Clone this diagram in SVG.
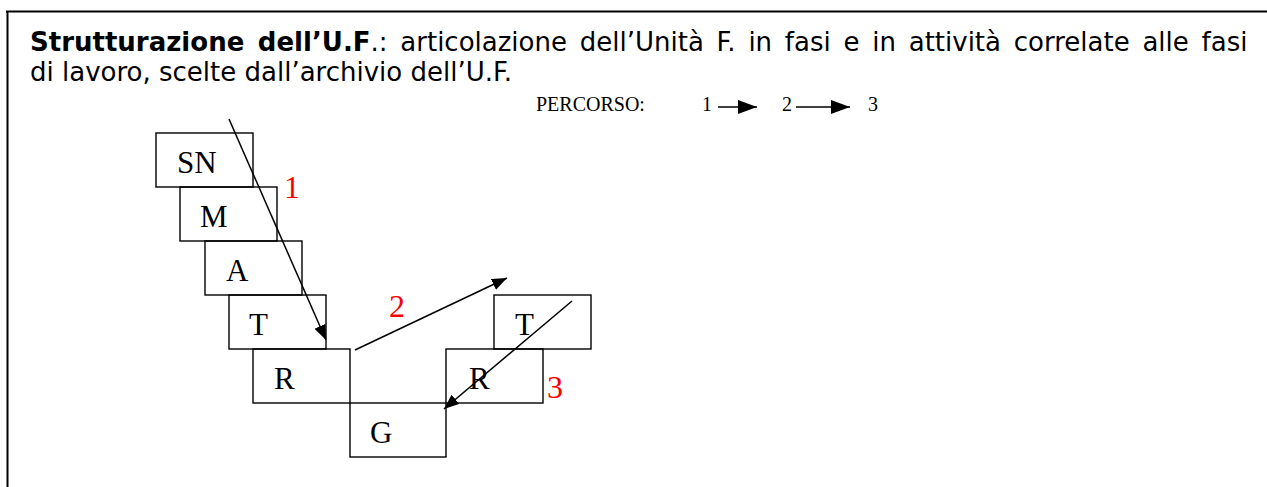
<svg xmlns="http://www.w3.org/2000/svg" width="1267" height="487" viewBox="0 0 1267 487">
<style>
.hdr{font-family:"DejaVu Sans",Verdana,sans-serif;font-size:26px;fill:#000}
.b{font-weight:bold}
.box{fill:none;stroke:#000;stroke-width:1.4}
.lbl{font-family:"Liberation Serif","Times New Roman",serif;font-size:31px;fill:#000}
.num{font-family:"Liberation Serif","Times New Roman",serif;font-size:32px;fill:#ff0000}
.per{font-family:"Liberation Serif","Times New Roman",serif;font-size:20px;fill:#000}
.arr{fill:none;stroke:#000;stroke-width:1.5}
</style>
<defs>
<marker id="ah" markerUnits="userSpaceOnUse" markerWidth="16" markerHeight="13" refX="15" refY="6" orient="auto">
<path d="M0,0 L15,6 L0,12 z" fill="#000"/>
</marker>
<marker id="ah2" markerUnits="userSpaceOnUse" markerWidth="20" markerHeight="15" refX="19" refY="7" orient="auto">
<path d="M0,0 L19,7 L0,14 z" fill="#000"/>
</marker>
</defs>
<rect width="1267" height="487" fill="#fff"/>
<g id="frame">
<line x1="6" y1="11.5" x2="1267" y2="11.5" stroke="#000" stroke-width="2"/>
<line x1="7.5" y1="11" x2="7.5" y2="487" stroke="#000" stroke-width="2"/>
</g>
<g id="header">
<text class="hdr" x="30" y="51" word-spacing="4.5"><tspan class="b">Strutturazione dell’U.F</tspan>.: articolazione dell’Unità F. in fasi e in attività correlate alle fasi</text>
<text class="hdr" x="30" y="81">di lavoro, scelte dall’archivio dell’U.F.</text>
</g>
<g id="percorso">
<text class="per" x="536" y="111">PERCORSO:</text>
<text class="per" x="702" y="111">1</text>
<text class="per" x="782" y="111">2</text>
<text class="per" x="868" y="111">3</text>
<line class="arr" x1="718" y1="107" x2="757" y2="107" marker-end="url(#ah2)"/>
<line class="arr" x1="796" y1="107" x2="850" y2="107" marker-end="url(#ah2)"/>
</g>
<g id="node-SN"><rect class="box" x="156" y="133" width="97" height="54"/><text class="lbl" x="177" y="173">SN</text></g>
<g id="node-M"><rect class="box" x="180" y="187" width="97" height="54"/><text class="lbl" x="200" y="227">M</text></g>
<g id="node-A"><rect class="box" x="205" y="241" width="97" height="54"/><text class="lbl" x="226" y="281">A</text></g>
<g id="node-T1"><rect class="box" x="229" y="295" width="97" height="54"/><text class="lbl" x="249" y="335">T</text></g>
<g id="node-R1"><rect class="box" x="253" y="349" width="97" height="54"/><text class="lbl" x="274" y="389">R</text></g>
<g id="node-G"><rect class="box" x="350" y="403" width="96" height="54"/><text class="lbl" x="370" y="443">G</text></g>
<g id="node-R2"><rect class="box" x="446" y="349" width="97" height="54"/><text class="lbl" x="469" y="389">R</text></g>
<g id="node-T2"><rect class="box" x="494" y="295" width="97" height="54"/><text class="lbl" x="515" y="335">T</text></g>
<g id="connectors">
<line class="arr" x1="229" y1="119" x2="326" y2="340" marker-end="url(#ah)"/>
<line class="arr" x1="355" y1="350" x2="507" y2="278" marker-end="url(#ah)"/>
<line class="arr" x1="572" y1="301" x2="444" y2="409" marker-end="url(#ah)"/>
</g>
<g id="labels">
<text class="num" x="284" y="198">1</text>
<text class="num" x="389" y="317">2</text>
<text class="num" x="547" y="398">3</text>
</g>
</svg>
